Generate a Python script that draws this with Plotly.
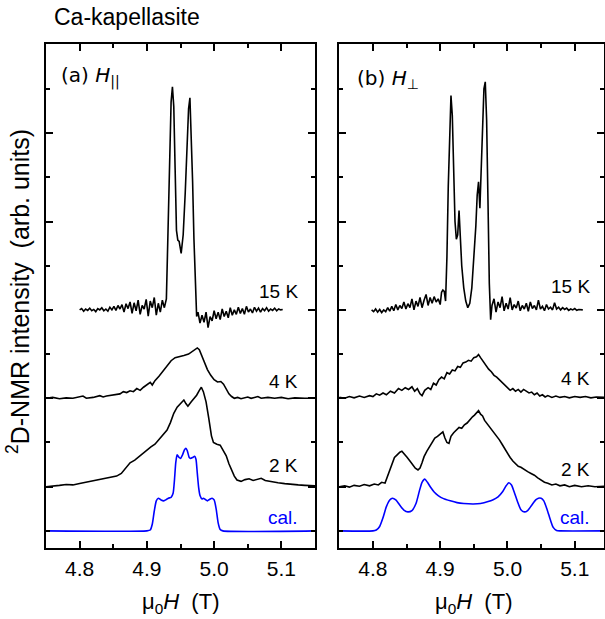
import plotly.graph_objects as go

# ---------------- data ----------------
# panel (a) H parallel
a15_x = [4.800,4.803,4.806,4.809,4.812,4.815,4.818,4.821,4.824,4.827,4.830,4.833,4.836,4.839,4.842,4.845,4.848,4.851,4.854,4.857,4.860,4.863,4.866,4.869,4.872,4.875,4.878,4.881,4.884,4.887,4.890,4.893,4.896,4.899,4.902,4.905,4.908,4.911,4.914,4.917,4.920,4.923,4.926,4.929,4.931,4.934,4.936,4.938,4.940,4.942,4.944,4.946,4.948,4.951,4.954,4.957,4.960,4.962,4.964,4.966,4.968,4.970,4.972,4.974,4.976,4.979,4.982,4.985,4.988,4.991,4.994,4.997,5.000,5.003,5.006,5.009,5.012,5.015,5.018,5.021,5.024,5.027,5.030,5.033,5.036,5.039,5.042,5.045,5.048,5.051,5.054,5.057,5.060,5.063,5.066,5.069,5.072,5.075,5.078,5.081,5.084,5.087,5.090,5.093,5.096,5.099,5.102]
a15_y = [5.00,5.03,4.97,5.02,4.99,5.04,4.98,5.01,4.96,5.03,5.00,5.05,4.98,5.02,4.97,5.06,5.00,5.08,4.99,5.10,5.02,5.12,4.95,5.14,5.03,5.18,4.92,5.16,4.98,5.22,4.90,5.10,5.02,5.24,4.86,5.20,5.05,5.28,4.88,5.15,4.95,5.22,5.05,5.25,6.50,8.50,9.70,10.05,9.60,8.20,6.80,6.58,6.55,6.28,6.70,7.64,8.90,9.55,9.80,9.00,7.90,6.60,5.40,4.85,4.95,4.70,4.88,4.72,4.95,4.60,4.85,4.75,4.98,4.80,4.95,4.78,5.02,4.85,4.97,4.82,5.05,4.88,5.00,4.90,5.06,4.92,5.03,4.90,5.08,4.95,5.02,4.93,5.06,4.97,5.04,4.95,5.03,4.98,5.05,4.97,5.02,4.99,5.04,4.98,5.02,5.00,5.01]

a4_x = [4.750,4.760,4.770,4.780,4.790,4.800,4.805,4.810,4.820,4.830,4.835,4.840,4.850,4.860,4.865,4.870,4.875,4.880,4.885,4.890,4.895,4.900,4.905,4.908,4.912,4.918,4.924,4.930,4.936,4.942,4.948,4.955,4.962,4.968,4.972,4.975,4.978,4.982,4.986,4.990,4.995,5.000,5.005,5.010,5.014,5.018,5.022,5.026,5.030,5.035,5.040,5.050,5.055,5.060,5.065,5.070,5.080,5.090,5.100,5.110,5.120,5.135,5.150]
a4_y = [3.00,3.02,2.99,3.01,3.00,3.03,3.05,3.00,3.02,3.06,3.03,3.05,3.08,3.10,3.15,3.13,3.17,3.15,3.22,3.18,3.25,3.30,3.36,3.30,3.40,3.50,3.62,3.72,3.85,3.92,3.95,3.97,4.00,4.06,4.12,4.14,4.10,3.95,3.80,3.65,3.52,3.42,3.37,3.38,3.32,3.20,3.10,3.04,3.00,3.02,2.99,3.03,3.00,3.02,3.04,3.00,3.02,3.00,3.02,2.99,3.01,3.00,3.00]

a2_x = [4.750,4.760,4.770,4.780,4.790,4.800,4.810,4.815,4.825,4.835,4.845,4.855,4.862,4.868,4.875,4.882,4.888,4.895,4.900,4.906,4.912,4.918,4.924,4.930,4.935,4.940,4.945,4.950,4.955,4.958,4.961,4.966,4.970,4.974,4.978,4.981,4.984,4.988,4.992,4.996,4.999,5.004,5.009,5.013,5.018,5.022,5.026,5.030,5.034,5.040,5.046,5.052,5.058,5.064,5.070,5.076,5.082,5.088,5.095,5.105,5.115,5.125,5.135,5.150]
a2_y = [1.00,1.01,1.03,1.05,1.04,1.07,1.10,1.12,1.14,1.18,1.20,1.24,1.30,1.40,1.54,1.60,1.68,1.76,1.83,1.90,1.96,2.06,2.16,2.28,2.45,2.66,2.80,2.88,2.96,2.88,2.82,2.92,3.00,3.07,3.18,3.25,3.15,2.92,2.55,2.15,2.00,1.96,1.94,1.84,1.70,1.52,1.38,1.24,1.15,1.12,1.16,1.18,1.14,1.17,1.19,1.14,1.12,1.10,1.09,1.07,1.05,1.04,1.03,1.02]

acal_x = [4.750,4.900,4.905,4.908,4.911,4.914,4.917,4.921,4.925,4.929,4.932,4.936,4.939,4.941,4.943,4.945,4.948,4.950,4.953,4.956,4.958,4.960,4.963,4.965,4.968,4.971,4.973,4.975,4.977,4.979,4.982,4.984,4.987,4.990,4.993,4.997,5.000,5.003,5.006,5.009,5.013,5.150]
acal_y = [0.00,0.00,0.02,0.15,0.45,0.68,0.74,0.70,0.68,0.71,0.74,0.76,0.85,1.15,1.55,1.72,1.66,1.64,1.72,1.84,1.87,1.82,1.66,1.64,1.66,1.69,1.62,1.30,0.98,0.80,0.72,0.74,0.71,0.68,0.71,0.74,0.70,0.50,0.18,0.03,0.00,0.00]

# panel (b) H perpendicular
b15_x = [4.798,4.801,4.804,4.807,4.810,4.813,4.816,4.819,4.822,4.825,4.828,4.831,4.834,4.837,4.840,4.843,4.846,4.849,4.852,4.855,4.858,4.861,4.864,4.867,4.870,4.873,4.876,4.879,4.882,4.885,4.888,4.891,4.894,4.897,4.900,4.902,4.904,4.906,4.908,4.910,4.912,4.914,4.916,4.918,4.920,4.922,4.924,4.926,4.928,4.930,4.932,4.935,4.938,4.941,4.944,4.947,4.950,4.953,4.955,4.957,4.959,4.961,4.963,4.965,4.967,4.969,4.971,4.973,4.975,4.977,4.980,4.983,4.986,4.989,4.992,4.995,4.998,5.001,5.004,5.007,5.010,5.013,5.016,5.019,5.022,5.025,5.028,5.031,5.034,5.037,5.040,5.043,5.046,5.049,5.052,5.055,5.058,5.061,5.064,5.067,5.070,5.073,5.076,5.079,5.082,5.085,5.088,5.091,5.094,5.097,5.100,5.103,5.106,5.109,5.112]
b15_y = [5.00,4.96,5.02,4.95,5.01,4.94,5.00,4.96,5.05,4.97,5.08,4.98,5.12,5.00,5.10,5.03,5.18,5.02,5.14,5.05,5.25,5.00,5.20,5.08,5.28,5.05,5.22,5.35,5.10,5.28,5.15,5.30,5.18,5.25,5.12,5.40,5.45,5.42,5.20,6.20,7.80,9.20,9.85,9.40,8.00,7.00,6.60,6.70,7.25,6.60,6.00,5.50,5.20,5.05,5.15,5.50,6.10,6.90,7.60,7.90,7.30,8.30,9.40,10.00,10.16,9.30,7.50,5.60,4.78,5.10,5.25,4.95,5.18,5.05,5.30,4.98,5.15,5.02,5.28,5.00,5.12,5.04,5.20,4.98,5.10,5.02,5.15,4.97,5.18,5.03,5.10,5.00,5.22,5.02,5.08,4.98,5.12,5.02,5.06,5.00,5.16,5.02,5.06,5.00,5.05,5.01,5.04,4.99,5.02,5.00,5.03,4.99,5.01,5.00,5.00]

b4_x = [4.750,4.758,4.765,4.772,4.780,4.787,4.795,4.800,4.805,4.810,4.815,4.820,4.826,4.832,4.838,4.843,4.848,4.853,4.858,4.862,4.866,4.870,4.873,4.877,4.882,4.886,4.890,4.894,4.898,4.902,4.906,4.910,4.914,4.918,4.922,4.926,4.930,4.934,4.938,4.942,4.946,4.950,4.954,4.957,4.960,4.963,4.966,4.969,4.972,4.976,4.980,4.984,4.988,4.992,4.996,5.000,5.004,5.008,5.012,5.016,5.020,5.024,5.028,5.032,5.036,5.040,5.044,5.048,5.052,5.056,5.060,5.066,5.072,5.078,5.085,5.092,5.100,5.108,5.116,5.124,5.132,5.144]
b4_y = [3.02,3.00,3.04,3.01,3.05,3.02,3.06,3.04,3.10,3.07,3.12,3.08,3.16,3.12,3.22,3.18,3.24,3.20,3.26,3.16,3.22,3.10,3.06,3.18,3.24,3.20,3.34,3.30,3.42,3.48,3.44,3.58,3.55,3.64,3.62,3.72,3.70,3.80,3.82,3.86,3.84,3.92,3.94,3.99,3.92,3.85,3.78,3.72,3.66,3.60,3.52,3.48,3.42,3.38,3.30,3.24,3.18,3.22,3.16,3.20,3.14,3.20,3.16,3.12,3.14,3.08,3.12,3.05,3.08,3.03,3.06,3.02,3.05,3.02,3.04,3.01,3.04,3.02,3.04,3.01,3.03,3.02]

b2_x = [4.750,4.758,4.765,4.772,4.780,4.787,4.795,4.802,4.808,4.813,4.818,4.821,4.824,4.828,4.832,4.836,4.840,4.843,4.847,4.851,4.855,4.859,4.863,4.867,4.870,4.873,4.876,4.880,4.884,4.888,4.892,4.896,4.900,4.904,4.907,4.910,4.913,4.916,4.920,4.924,4.928,4.932,4.936,4.940,4.944,4.948,4.951,4.954,4.957,4.960,4.963,4.966,4.969,4.972,4.976,4.980,4.984,4.988,4.992,4.996,5.000,5.004,5.008,5.012,5.016,5.020,5.025,5.030,5.035,5.040,5.045,5.050,5.055,5.060,5.066,5.072,5.078,5.085,5.092,5.100,5.110,5.120,5.130,5.144]
b2_y = [1.00,1.02,0.99,1.03,1.01,1.05,1.02,1.06,1.04,1.10,1.08,1.20,1.32,1.50,1.66,1.72,1.78,1.80,1.74,1.66,1.58,1.50,1.42,1.38,1.42,1.54,1.68,1.80,1.90,2.00,2.10,2.14,2.20,2.24,2.10,2.00,1.98,2.14,2.22,2.28,2.34,2.32,2.40,2.44,2.52,2.58,2.62,2.66,2.72,2.64,2.60,2.50,2.44,2.40,2.30,2.22,2.14,2.06,1.96,1.86,1.74,1.66,1.58,1.52,1.46,1.44,1.38,1.34,1.30,1.26,1.20,1.14,1.10,1.08,1.04,1.06,1.02,1.04,1.00,1.03,1.00,1.02,1.00,1.01]

bcal_x = [4.750,4.800,4.805,4.810,4.815,4.820,4.825,4.829,4.834,4.840,4.846,4.852,4.858,4.864,4.869,4.873,4.877,4.881,4.886,4.891,4.897,4.905,4.915,4.925,4.935,4.949,4.960,4.970,4.978,4.986,4.993,4.998,5.002,5.006,5.010,5.015,5.020,5.025,5.030,5.036,5.042,5.046,5.050,5.054,5.059,5.064,5.068,5.073,5.078,5.144]
bcal_y = [0.00,0.00,0.02,0.10,0.30,0.55,0.70,0.74,0.70,0.58,0.47,0.43,0.46,0.62,0.90,1.10,1.17,1.10,0.98,0.88,0.80,0.73,0.68,0.64,0.62,0.61,0.62,0.66,0.70,0.77,0.89,1.02,1.09,1.04,0.88,0.66,0.48,0.43,0.46,0.58,0.70,0.74,0.74,0.68,0.48,0.24,0.08,0.01,0.00,0.00]

x_ticks = [4.8, 4.9, 5.0, 5.1]
x_ticktext = ["4.8", "4.9", "5.0", "5.1"]
x_minor = [4.85, 4.95, 5.05]
y_major = [1, 3, 5, 7, 9]
y_minor = [0, 2, 4, 6, 8, 10]

curve_labels = ["15 K", "4 K", "2 K", "cal."]
a_label_y = [5.41, 3.37, 1.49, 0.31]
b_label_y = [5.52, 3.44, 1.38, 0.31]

# ---------------- figure ----------------
FONT = "Liberation Sans, Arial, sans-serif"
W, H = 605, 619
fig = go.Figure()

def add(xs, ys, axis, color="black", spline=False):
    fig.add_trace(go.Scatter(
        x=xs, y=ys, mode="lines", xaxis="x" + axis, yaxis="y" + axis,
        line=dict(color=color, width=1.6, shape="spline" if spline else "linear",
                  smoothing=0.6 if spline else None),
        hoverinfo="skip", showlegend=False))

add(a15_x, a15_y, "")
add(a4_x, a4_y, "")
add(a2_x, a2_y, "")
add(acal_x, acal_y, "", color="#0000ff", spline=True)
add(b15_x, b15_y, "2")
add(b4_x, b4_y, "2")
add(b2_x, b2_y, "2")
add(bcal_x, bcal_y, "2", color="#0000ff", spline=True)

def xax(domain, rng, anchor):
    return dict(domain=domain, range=rng, anchor=anchor,
                tickmode="array", tickvals=x_ticks, ticktext=x_ticktext,
                ticks="inside", ticklen=7, tickwidth=1.5, tickcolor="black",
                minor=dict(tickmode="array", tickvals=x_minor, ticks="inside",
                           ticklen=4, tickwidth=1.5, tickcolor="black"),
                showline=True, linewidth=2, linecolor="black", mirror="ticks",
                showgrid=False, zeroline=False,
                tickfont=dict(family=FONT, size=21, color="black"))

def yax(anchor):
    return dict(domain=[1 - 548.3 / H, 1 - 44 / H], range=[-0.394, 11.016], anchor=anchor,
                tickmode="array", tickvals=y_major, showticklabels=False,
                ticks="inside", ticklen=7, tickwidth=1.5, tickcolor="black",
                minor=dict(tickmode="array", tickvals=y_minor, ticks="inside",
                           ticklen=4, tickwidth=1.5, tickcolor="black"),
                showline=True, linewidth=2, linecolor="black", mirror="ticks",
                showgrid=False, zeroline=False)

fig.update_layout(
    width=W, height=H, margin=dict(l=0, r=0, t=0, b=0),
    paper_bgcolor="white", plot_bgcolor="white",
    xaxis=xax([46 / W, 315 / W], [4.75, 5.15], "y"),
    yaxis=yax("x"),
    xaxis2=xax([339.3 / W, 604 / W], [4.75, 5.1435], "y2"),
    yaxis2=yax("x2"),
)

ann = []
for lab, ya, yb in zip(curve_labels, a_label_y, b_label_y):
    col = "#0000ff" if lab == "cal." else "black"
    ann.append(dict(x=5.128, y=ya, xref="x", yref="y", text=lab, showarrow=False,
                    xanchor="right", yanchor="middle",
                    font=dict(family=FONT, size=19, color=col)))
    ann.append(dict(x=5.126, y=yb, xref="x2", yref="y2", text=lab, showarrow=False,
                    xanchor="right", yanchor="middle",
                    font=dict(family=FONT, size=19, color=col)))

ann.append(dict(x=4.769, y=10.29, xref="x", yref="y", text="(a) <i>H</i><sub>||</sub>",
                showarrow=False, xanchor="left", yanchor="middle",
                font=dict(family="DejaVu Sans, sans-serif", size=20, color="black")))
ann.append(dict(x=4.773, y=10.22, xref="x2", yref="y2", text="(b) <i>H</i><sub>⊥</sub>",
                showarrow=False, xanchor="left", yanchor="middle",
                font=dict(family="DejaVu Sans, sans-serif", size=20, color="black")))

ann.append(dict(x=52 / W, y=1 - 17 / H, xref="paper", yref="paper", text="Ca-kapellasite",
                showarrow=False, xanchor="left", yanchor="middle",
                font=dict(family=FONT, size=23, color="black")))
for cx in (180, 473):
    ann.append(dict(x=cx / W, y=1 - 603 / H, xref="paper", yref="paper",
                    text="μ<sub>0</sub><i>H</i>  (T)", showarrow=False,
                    xanchor="center", yanchor="middle",
                    font=dict(family=FONT, size=22, color="black")))
ann.append(dict(x=18 / W, y=1 - 292 / H, xref="paper", yref="paper",
                text="<sup>2</sup>D-NMR intensity  (arb. units)", showarrow=False,
                textangle=-90, xanchor="center", yanchor="middle",
                font=dict(family=FONT, size=25, color="black")))
fig.update_layout(annotations=ann)

fig.write_html("out.html", config={"displayModeBar": False},
               post_script="document.body.style.margin='0px';document.body.style.overflow='hidden';")
